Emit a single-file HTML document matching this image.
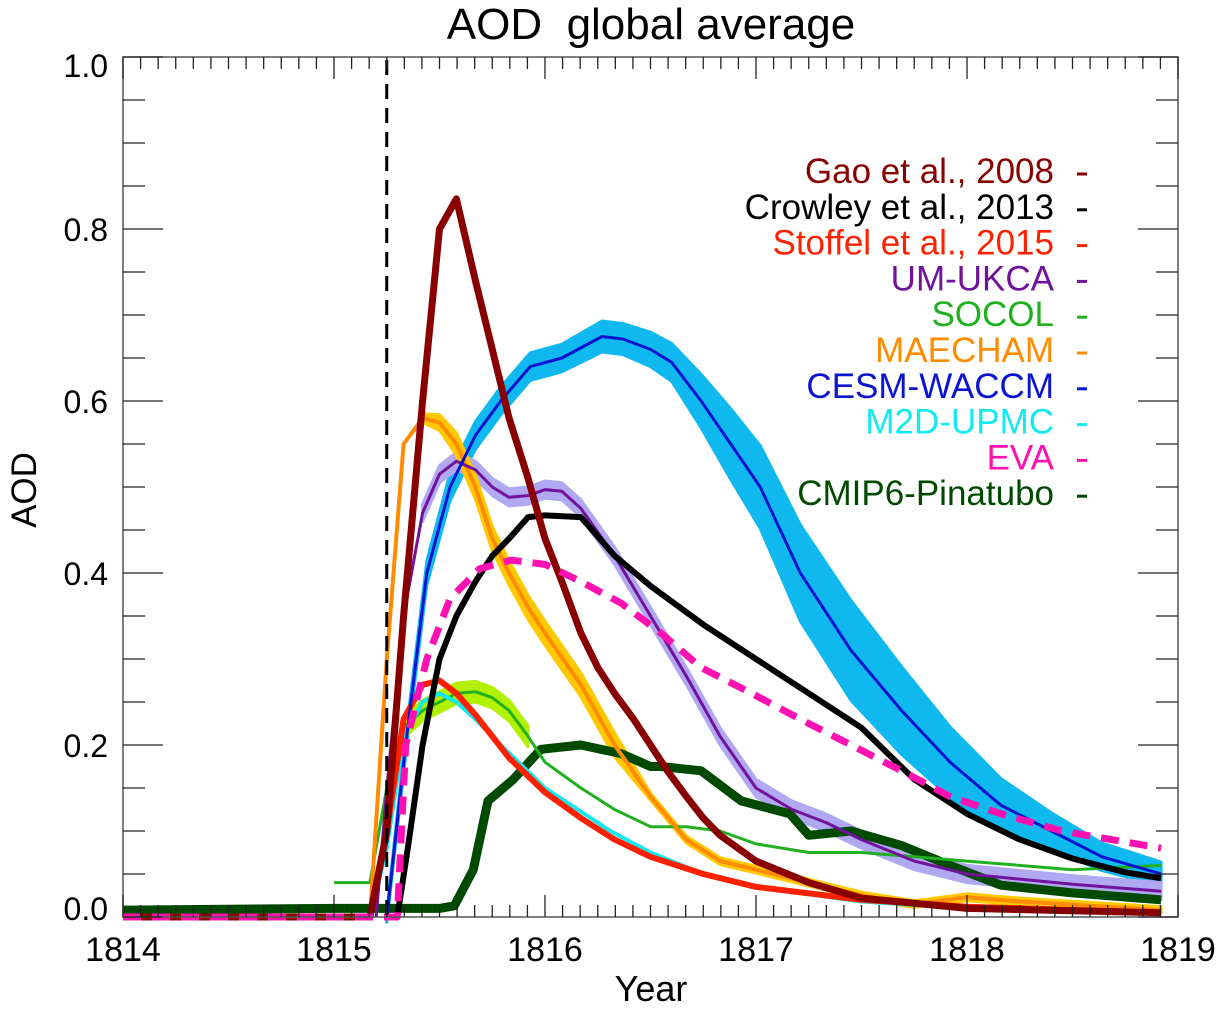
<!DOCTYPE html>
<html><head><meta charset="utf-8">
<style>
html,body{margin:0;padding:0;background:#fff;}
svg{display:block;font-family:"Liberation Sans",Arial,sans-serif;}
</style></head>
<body>
<svg id="chart" width="1221" height="1011" viewBox="0 0 1221 1011" xmlns="http://www.w3.org/2000/svg">
<text x="651" y="39" font-size="44" text-anchor="middle" xml:space="preserve">AOD  global average</text>
<text x="651" y="1001" font-size="36" text-anchor="middle">Year</text>
<text x="0" y="0" font-size="35" text-anchor="middle" transform="translate(36,490) rotate(-90)">AOD</text>
<g id="bands"></g>
<g id="lines"></g>
<g id="axes"></g>
<g id="legend"></g>
</svg>
<script>
const yearTicks = [1814,1815,1816,1817,1818,1819];
const aodTicks = [0.0,0.2,0.4,0.6,0.8,1.0];
const eruptionYear = 1815.25;

const gaoX = [1814,1815.17,1815.25,1815.33,1815.42,1815.5,1815.58,1815.67,1815.75,1815.83,1815.92,1816,1816.08,1816.17,1816.25,1816.33,1816.42,1816.5,1816.58,1816.67,1816.75,1816.83,1817,1817.25,1817.5,1818,1818.92];
const gaoY = [0,0,0.1,0.35,0.6,0.8,0.835,0.74,0.66,0.58,0.51,0.44,0.39,0.33,0.29,0.26,0.23,0.2,0.17,0.14,0.115,0.095,0.065,0.04,0.022,0.01,0.005];

const crowleyX = [1815.3,1815.35,1815.42,1815.5,1815.58,1815.67,1815.75,1815.83,1815.92,1816,1816.17,1816.33,1816.5,1816.75,1817,1817.25,1817.5,1817.75,1818,1818.25,1818.5,1818.75,1818.92];
const crowleyY = [0,0.08,0.2,0.3,0.35,0.39,0.42,0.44,0.465,0.467,0.465,0.42,0.385,0.34,0.3,0.26,0.22,0.16,0.12,0.09,0.068,0.052,0.045];

const stoffelX = [1814,1815.17,1815.25,1815.33,1815.42,1815.5,1815.58,1815.67,1815.75,1815.83,1816,1816.17,1816.33,1816.5,1816.75,1817,1817.5,1818,1818.92];
const stoffelY = [0,0,0.1,0.23,0.27,0.275,0.26,0.235,0.21,0.185,0.145,0.115,0.09,0.07,0.05,0.035,0.02,0.012,0.005];

const ukcaX = [1815.2,1815.25,1815.33,1815.42,1815.5,1815.58,1815.67,1815.75,1815.83,1815.92,1816,1816.08,1816.17,1816.33,1816.5,1816.67,1816.83,1817,1817.17,1817.33,1817.5,1817.75,1818,1818.5,1818.92];
const ukcaY = [0,0.15,0.35,0.47,0.515,0.53,0.52,0.5,0.488,0.49,0.497,0.495,0.475,0.42,0.35,0.28,0.21,0.15,0.125,0.11,0.09,0.065,0.05,0.038,0.03];

const socolX = [1815,1815.17,1815.25,1815.33,1815.42,1815.5,1815.58,1815.67,1815.75,1815.83,1815.92,1816,1816.17,1816.33,1816.5,1816.67,1816.83,1817,1817.25,1817.5,1817.75,1818,1818.5,1818.92];
const socolY = [0.04,0.04,0.15,0.22,0.24,0.25,0.26,0.262,0.255,0.24,0.21,0.18,0.15,0.125,0.105,0.105,0.1,0.085,0.075,0.075,0.07,0.065,0.055,0.06];

const maechamX = [1815.1,1815.17,1815.25,1815.33,1815.42,1815.5,1815.58,1815.67,1815.75,1815.83,1815.92,1816,1816.17,1816.33,1816.5,1816.67,1816.83,1817,1817.25,1817.5,1817.75,1818,1818.25,1818.92];
const maechamY = [0,0,0.3,0.55,0.58,0.575,0.55,0.5,0.44,0.4,0.36,0.33,0.27,0.2,0.14,0.09,0.065,0.055,0.04,0.025,0.015,0.023,0.018,0.008];

const cesmX = [1815.25,1815.34,1815.44,1815.55,1815.67,1815.79,1815.93,1816.08,1816.27,1816.37,1816.5,1816.6,1816.74,1816.88,1817.02,1817.21,1817.45,1817.69,1817.92,1818.16,1818.4,1818.64,1818.92];
const cesmY = [0,0.2,0.4,0.5,0.56,0.6,0.64,0.65,0.675,0.672,0.66,0.645,0.6,0.55,0.5,0.4,0.31,0.24,0.18,0.13,0.1,0.07,0.05];
const cesmSpread = [0,0.005,0.008,0.01,0.01,0.01,0.01,0.01,0.012,0.012,0.014,0.016,0.025,0.035,0.042,0.05,0.052,0.045,0.035,0.025,0.015,0.01,0.008];

const m2dX = [1814,1815.17,1815.25,1815.33,1815.42,1815.5,1815.58,1815.67,1815.79,1816,1816.31,1816.5,1816.75,1817,1817.5,1818,1818.92];
const m2dY = [0,0,0.08,0.21,0.25,0.26,0.25,0.23,0.2,0.15,0.1,0.075,0.05,0.035,0.018,0.01,0.004];

const evaX = [1814,1815.3,1815.34,1815.44,1815.55,1815.69,1815.84,1816,1816.17,1816.36,1816.55,1816.74,1816.98,1817.21,1817.45,1817.69,1817.92,1818.16,1818.45,1818.92];
const evaY = [0,0,0.2,0.3,0.37,0.405,0.415,0.41,0.39,0.365,0.33,0.29,0.26,0.23,0.2,0.17,0.14,0.12,0.1,0.08];

const cmipX = [1814,1815,1815.5,1815.57,1815.66,1815.73,1815.85,1815.98,1816.17,1816.36,1816.5,1816.55,1816.74,1816.93,1817.16,1817.25,1817.45,1817.69,1817.92,1818.16,1818.5,1818.92];
const cmipY = [0.008,0.01,0.01,0.013,0.055,0.135,0.16,0.195,0.2,0.19,0.175,0.175,0.17,0.135,0.12,0.095,0.1,0.083,0.06,0.037,0.028,0.02];

const legendLabels = ["Gao et al., 2008","Crowley et al., 2013","Stoffel et al., 2015","UM-UKCA","SOCOL","MAECHAM","CESM-WACCM","M2D-UPMC","EVA","CMIP6-Pinatubo"];
const legendColors = ["#880000","#000000","#ff2000","#70129a","#20b020","#ff8c00","#0a14d0","#10eaf0","#ff10b0","#004a00"];

const NS = "http://www.w3.org/2000/svg";
const X0 = 123, XW = 211, Y0 = 917, YH = 860;
function sx(yr){ return X0 + (yr - 1814) * XW; }
function sy(v){ return Y0 - v * YH; }
function mk(tag, attrs, parent){
  const e = document.createElementNS(NS, tag);
  for (const k in attrs) e.setAttribute(k, attrs[k]);
  parent.appendChild(e);
  return e;
}
function pts(xs, ys){ return xs.map((x,i)=>sx(x).toFixed(1)+","+sy(ys[i]).toFixed(1)).join(" "); }

const bands = document.getElementById('bands');
const lines = document.getElementById('lines');
const axes = document.getElementById('axes');
const legend = document.getElementById('legend');

function band(xs, ys, w, color, name){
  const up = xs.map((x,i)=>sx(x).toFixed(1)+","+sy(ys[i]+w[i]).toFixed(1));
  const dn = xs.map((x,i)=>sx(x).toFixed(1)+","+sy(ys[i]-w[i]).toFixed(1)).reverse();
  const p = mk('polygon', {points: up.concat(dn).join(" "), fill: color, stroke: color, 'stroke-width': 3, 'stroke-linejoin':'round'}, bands);
  
  
}
function line(xs, ys, color, width, name, dash){
  const a = {points: pts(xs, ys), fill: 'none', stroke: color, 'stroke-width': width, 'stroke-linejoin': 'round'};
  if (dash) a['stroke-dasharray'] = dash;
  const p = mk('polyline', a, lines);
  
  
}

const cesmBandW = cesmSpread.map(v=>v+0.006);
band(cesmX, cesmY, cesmBandW, "#10b8f0", "cesm-waccm-band");
band(ukcaX.slice(3), ukcaY.slice(3), ukcaX.slice(3).map(()=>0.01), "#b0a8f0", "um-ukca-band");
const mx = maechamX.slice(4);
band(mx, maechamY.slice(4), mx.map((x,i)=>i<3 ? 0.005+0.004*i : (i<10 ? 0.014 : 0.004)), "#ffc800", "maecham-band");
band(socolX.slice(3,11), socolY.slice(3,11), socolX.slice(3,11).map(()=>0.012), "#b0f000", "socol-band");

line(cmipX, cmipY, "#004a00", 9, "cmip6-pinatubo-line");
line(socolX, socolY, "#20b020", 3, "socol-line");
line(maechamX, maechamY, "#ff8c00", 4, "maecham-line");
line(m2dX, m2dY, "#10eaf0", 4, "m2d-upmc-line");
line(stoffelX, stoffelY, "#ff2000", 6, "stoffel-line");
line(ukcaX, ukcaY, "#70129a", 3, "um-ukca-line");
line(cesmX, cesmY, "#0a14d0", 3, "cesm-waccm-line");
line(crowleyX, crowleyY, "#000000", 6, "crowley-line");
line(gaoX, gaoY, "#880000", 7, "gao-line");
line(evaX, evaY, "#ff10b0", 7, "eva-line", "18,11");

const er = mk('line', {x1: sx(eruptionYear), x2: sx(eruptionYear), y1: 60, y2: Y0, stroke: '#000', 'stroke-width': 3, 'stroke-dasharray': '15,9'}, lines);



const fr = mk('rect', {x: X0, y: 57, width: 5*XW, height: Y0-57, fill: 'none', stroke: '#555', 'stroke-width': 1.5}, axes);



for (let m = 0; m <= 60; m++){
  const x = X0 + m * XW / 12;
  const major = m % 12 === 0;
  const len = major ? 22 : 12;
  mk('line', {x1: x, x2: x, y1: Y0, y2: Y0 - len, stroke: '#222', 'stroke-width': 1.3}, axes);
  mk('line', {x1: x, x2: x, y1: 57, y2: 57 + len, stroke: '#222', 'stroke-width': 1.3}, axes);
}
yearTicks.forEach(yr=>{
  const t = mk('text', {x: sx(yr), y: 961, 'font-size': 34, 'text-anchor': 'middle'}, axes);
  t.textContent = yr;
  
  
});
for (let k = 0; k <= 20; k++){
  const y = sy(k * 0.05);
  const major = k % 4 === 0;
  const len = major ? 40 : 22;
  mk('line', {x1: X0, x2: X0 + len, y1: y, y2: y, stroke: '#222', 'stroke-width': 1.3}, axes);
  mk('line', {x1: X0 + 5*XW, x2: X0 + 5*XW - len, y1: y, y2: y, stroke: '#222', 'stroke-width': 1.3}, axes);
}
aodTicks.forEach(v=>{
  let y = sy(v) + 12;
  if (v === 0) y -= 9;
  if (v === 1) y += 8;
  const t = mk('text', {x: 108, y: y, 'font-size': 32, 'text-anchor': 'end'}, axes);
  t.textContent = v.toFixed(1);
  
  
});

legendLabels.forEach((lab, i)=>{
  const y = 171 + i * 35.8;
  const t = mk('text', {x: 1054, y: y + 12, 'font-size': 35, 'text-anchor': 'end', fill: legendColors[i]}, legend);
  t.textContent = lab;
  
  
  const d = mk('line', {x1: 1077, x2: 1087, y1: y + 3, y2: y + 3, stroke: legendColors[i], 'stroke-width': 3}, legend);
  
  
});
</script>
</body></html>
